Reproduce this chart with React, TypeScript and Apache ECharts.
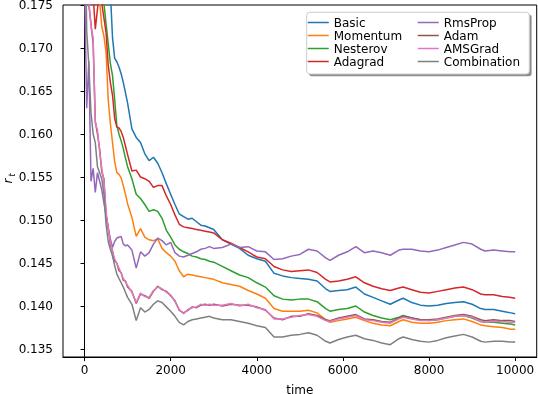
import React, { useEffect, useRef } from "react";
import * as echarts from "echarts";

// time grid (shared by every series)
const TIME = [
  0, 50, 100, 150, 200, 250, 300, 350, 400, 450,
  500, 550, 600, 650, 700, 750, 800, 850, 900, 950,
  1000, 1100, 1200, 1300, 1400, 1500, 1600, 1700, 1800, 1900,
  2000, 2100, 2200, 2300, 2400, 2500, 2600, 2700, 2800, 2900,
  3000, 3200, 3400, 3600, 3800, 4000, 4200, 4400, 4600, 4800,
  5000, 5200, 5400, 5600, 5700, 5900, 6100, 6300, 6500, 6700,
  6900, 7100, 7300, 7400, 7600, 7800, 8000, 8200, 8400, 8600,
  8800, 9000, 9200, 9300, 9500, 9700, 9900, 10000,
];

const BASIC = [
  0.215, 0.210, 0.205, 0.201, 0.197, 0.194, 0.191, 0.188, 0.185, 0.183,
  0.1805, 0.1785, 0.1765, 0.1712, 0.1688, 0.1684, 0.1678, 0.1670, 0.1660, 0.1648,
  0.1636, 0.1606, 0.1596, 0.1590, 0.1577, 0.1569, 0.1573, 0.1566, 0.1555, 0.1542,
  0.1530, 0.1518, 0.1507, 0.1504, 0.1501, 0.1502, 0.1498, 0.1494, 0.1493, 0.1491,
  0.1489, 0.1477, 0.1472, 0.1467, 0.1459, 0.1455, 0.1452, 0.1438, 0.1435, 0.1433,
  0.1432, 0.1431, 0.1429, 0.1420, 0.1417, 0.1418, 0.1419, 0.1422, 0.1414, 0.1410,
  0.1406, 0.1402, 0.1407, 0.1409, 0.1404, 0.1401, 0.1400, 0.1401, 0.1403, 0.1404,
  0.1405, 0.1402, 0.1397, 0.1396, 0.1396, 0.1394, 0.1392, 0.1391,
];

const MOMENTUM = [
  0.200, 0.195, 0.191, 0.187, 0.184, 0.181, 0.178, 0.1755, 0.1725, 0.1714,
  0.1695, 0.1640, 0.1612, 0.1590, 0.1568, 0.1555, 0.1553, 0.1549, 0.1540, 0.1530,
  0.1519, 0.1503, 0.1481, 0.1490, 0.1480, 0.1477, 0.1476, 0.1478, 0.1467, 0.1462,
  0.1458, 0.1452, 0.1441, 0.1434, 0.1437, 0.1436, 0.1435, 0.1434, 0.1433, 0.1432,
  0.1431, 0.1427, 0.1425, 0.1423, 0.1418, 0.1414, 0.1409, 0.1397, 0.1394, 0.1394,
  0.1394, 0.1395, 0.1392, 0.1384, 0.1381, 0.1383, 0.1385, 0.1387, 0.1383, 0.1380,
  0.1378, 0.1377, 0.1382, 0.1384, 0.1381, 0.1380, 0.1380, 0.1381, 0.1383, 0.1384,
  0.1385, 0.1382, 0.1378, 0.1377, 0.1376, 0.1375, 0.1373, 0.1373,
];

const NESTEROV = [
  0.205, 0.200, 0.196, 0.192, 0.188, 0.185, 0.182, 0.179, 0.1772, 0.1752,
  0.1728, 0.1705, 0.1682, 0.1668, 0.1640, 0.1610, 0.1600, 0.1592, 0.1583, 0.1572,
  0.1562, 0.1548, 0.1530, 0.1525, 0.1518, 0.1510, 0.1512, 0.1510, 0.1502, 0.1488,
  0.1480, 0.1471, 0.1466, 0.1463, 0.1461, 0.1458, 0.1457, 0.1455, 0.1454, 0.1452,
  0.1451, 0.1446, 0.1441, 0.1436, 0.1433, 0.1427, 0.1422, 0.1412, 0.1408, 0.1407,
  0.1408, 0.1408, 0.1405, 0.1397, 0.1394, 0.1396, 0.1397, 0.1400, 0.1393, 0.1389,
  0.1386, 0.1384, 0.1387, 0.1389, 0.1386, 0.1384, 0.1383, 0.1384, 0.1386, 0.1388,
  0.1389, 0.1386, 0.1382, 0.1381, 0.1381, 0.1380, 0.1379, 0.1378,
];

const ADAGRAD = [
  0.195, 0.188, 0.182, 0.178, 0.1762, 0.1722, 0.1745, 0.1768, 0.1752, 0.1735,
  0.1718, 0.1680, 0.1660, 0.1645, 0.1618, 0.1608, 0.1607, 0.1603, 0.1596, 0.1586,
  0.1576, 0.1557, 0.1558, 0.1550, 0.1548, 0.1545, 0.1538, 0.1540, 0.1540, 0.1528,
  0.1518, 0.1506, 0.1495, 0.1492, 0.1491, 0.1490, 0.1489, 0.1488, 0.1487, 0.1486,
  0.1485, 0.1477, 0.1473, 0.1468, 0.1463, 0.1457, 0.1455, 0.1446, 0.1442, 0.1440,
  0.1441, 0.1442, 0.1439, 0.1431, 0.1428, 0.1429, 0.1431, 0.1434, 0.1427, 0.1423,
  0.1420, 0.1418, 0.1421, 0.1422, 0.1419, 0.1416, 0.1415, 0.1417, 0.1419, 0.1421,
  0.1422, 0.1419, 0.1414, 0.1413, 0.1413, 0.1411, 0.1410, 0.1409,
];

const RMSPROP = [
  0.178, 0.163, 0.1685, 0.1545, 0.1560, 0.1532, 0.1555, 0.1545, 0.1535, 0.1520,
  0.1505, 0.1490, 0.1478, 0.1468, 0.1475, 0.1479, 0.1480, 0.1481, 0.1472, 0.1470,
  0.1471, 0.1465, 0.1444, 0.1463, 0.1458, 0.1462, 0.1472, 0.1479, 0.1476, 0.1471,
  0.1474, 0.1462, 0.1458, 0.1457, 0.1459, 0.1461, 0.1463, 0.1466, 0.1467, 0.1469,
  0.1467, 0.1468, 0.1472, 0.1468, 0.1469, 0.1464, 0.1463, 0.1454, 0.1455, 0.1458,
  0.1460, 0.1466, 0.1464, 0.1456, 0.1453, 0.1459, 0.1463, 0.1469, 0.1462, 0.1464,
  0.1462, 0.1459, 0.1465, 0.1466, 0.1466, 0.1464, 0.1463, 0.1465, 0.1468, 0.1471,
  0.1474, 0.1472, 0.1466, 0.1464, 0.1465, 0.1464, 0.1463, 0.1463,
];

const ADAM = [
  0.186, 0.179, 0.1750, 0.1728, 0.1705, 0.1615, 0.1600, 0.1583, 0.1556, 0.1548,
  0.1506, 0.1492, 0.1472, 0.1464, 0.1452, 0.1450, 0.1441, 0.1439, 0.1430, 0.1429,
  0.1422, 0.1417, 0.1403, 0.1414, 0.1412, 0.1409, 0.1417, 0.1423, 0.1419, 0.1417,
  0.1412, 0.1406, 0.1395, 0.1392, 0.1395, 0.1399, 0.1398, 0.1401, 0.1402, 0.1401,
  0.1402, 0.1400, 0.1402, 0.1401, 0.1401, 0.1399, 0.1395, 0.1386, 0.1384, 0.1388,
  0.1388, 0.1391, 0.1389, 0.1384, 0.1383, 0.1386, 0.1388, 0.1390, 0.1385, 0.1384,
  0.1382, 0.1381, 0.1386, 0.1388, 0.1386, 0.1384, 0.1384, 0.1385, 0.1387, 0.1389,
  0.1390, 0.1388, 0.1384, 0.1383, 0.1384, 0.1383, 0.1383, 0.1382,
];

const AMSGRAD = [
  0.185, 0.178, 0.1755, 0.1725, 0.1712, 0.1612, 0.1605, 0.1580, 0.1560, 0.1545,
  0.1510, 0.1490, 0.1475, 0.1462, 0.1455, 0.1449, 0.1444, 0.1438, 0.1432, 0.1428,
  0.1424, 0.1416, 0.1404, 0.1415, 0.1411, 0.1410, 0.1418, 0.1422, 0.1420, 0.1416,
  0.1413, 0.1405, 0.1396, 0.1391, 0.1396, 0.1398, 0.1399, 0.1402, 0.1401, 0.1402,
  0.1401, 0.1401, 0.1403, 0.1400, 0.1402, 0.1398, 0.1396, 0.1385, 0.1385, 0.1387,
  0.1389, 0.1390, 0.1388, 0.1383, 0.1382, 0.1385, 0.1387, 0.1389, 0.1384, 0.1383,
  0.1381, 0.1380, 0.1385, 0.1387, 0.1385, 0.1383, 0.1383, 0.1384, 0.1386, 0.1388,
  0.1389, 0.1387, 0.1382, 0.1381, 0.1382, 0.1382, 0.1381, 0.1381,
];

const COMBINATION = [
  0.190, 0.172, 0.1680, 0.1625, 0.1600, 0.1590, 0.1562, 0.1555, 0.1548, 0.1530,
  0.1495, 0.1475, 0.1466, 0.1458, 0.1447, 0.1437, 0.1432, 0.1427, 0.1422, 0.1416,
  0.1410, 0.1402, 0.1383, 0.1398, 0.1393, 0.1396, 0.1402, 0.1406, 0.1404, 0.1399,
  0.1394, 0.1388, 0.1381, 0.1378, 0.1382, 0.1384, 0.1385, 0.1386, 0.1387, 0.1388,
  0.1386, 0.1384, 0.1384, 0.1382, 0.1380, 0.1377, 0.1375, 0.1364, 0.1364, 0.1366,
  0.1367, 0.1369, 0.1366, 0.1359, 0.1357, 0.1361, 0.1364, 0.1366, 0.1362, 0.1360,
  0.1357, 0.1355, 0.1362, 0.1364, 0.1361, 0.1359, 0.1358, 0.1360, 0.1363, 0.1365,
  0.1367, 0.1364, 0.1359, 0.1358, 0.1359, 0.1359, 0.1358, 0.1358,
];

const SERIES_NAMES = ["Basic", "Momentum", "Nesterov", "Adagrad", "RmsProp", "Adam", "AMSGrad", "Combination"];
const SERIES_VALUES = [BASIC, MOMENTUM, NESTEROV, ADAGRAD, RMSPROP, ADAM, AMSGRAD, COMBINATION];
const COLORS = ["#1f77b4", "#ff7f0e", "#2ca02c", "#d62728", "#9467bd", "#8c564b", "#e377c2", "#7f7f7f"];

const X_TICKS = [0, 2000, 4000, 6000, 8000, 10000];
const Y_TICKS = [0.135, 0.14, 0.145, 0.15, 0.155, 0.16, 0.165, 0.17, 0.175];

const FONT = "DejaVu Sans";

export default function App() {
  const ref = useRef<HTMLDivElement>(null);
  useEffect(() => {
    if (!ref.current) return;
    const chart = echarts.init(ref.current, undefined, { renderer: "svg" });
    const legendCommon = {
      orient: "vertical",
      itemWidth: 21,
      itemHeight: 13,
      itemGap: 0,
      padding: 0,
      itemStyle: { opacity: 0 },
      lineStyle: { width: 1.5 },
      textStyle: { fontSize: 12, color: "#000", fontFamily: FONT, lineHeight: 13 },
      selectedMode: false,
    };
    chart.setOption({
      animation: false,
      color: COLORS,
      grid: {
        left: 63,
        right: 1.3,
        top: 5,
        bottom: 37,
        show: true,
        borderColor: "#000",
        borderWidth: 1,
        backgroundColor: "transparent",
        containLabel: false,
        outerBoundsMode: "none",
      },
      xAxis: {
        type: "value",
        min: -500,
        max: 10500,
        name: "time",
        nameLocation: "middle",
        nameGap: 27,
        nameTextStyle: { fontSize: 12, color: "#000", fontFamily: FONT },
        axisLine: { show: true, lineStyle: { color: "#000", width: 1 } },
        axisTick: { show: true, inside: false, length: 4, customValues: X_TICKS, lineStyle: { color: "#000" } },
        axisLabel: {
          customValues: X_TICKS,
          margin: 7,
          color: "#000",
          fontSize: 12,
          fontFamily: FONT,
          formatter: (v: number) => String(v),
        },
        splitLine: { show: false },
      },
      yAxis: {
        type: "value",
        min: 0.13407,
        max: 0.175,
        axisLine: { show: true, lineStyle: { color: "#000", width: 1 } },
        axisTick: { show: true, inside: false, length: 4, customValues: Y_TICKS, lineStyle: { color: "#000" } },
        axisLabel: {
          customValues: Y_TICKS,
          margin: 10,
          color: "#000",
          fontSize: 12,
          fontFamily: FONT,
          formatter: (v: number) => v.toFixed(3),
        },
        splitLine: { show: false },
      },
      legend: [
        { ...legendCommon, data: SERIES_NAMES.slice(0, 4), left: 307, top: 16 },
        { ...legendCommon, data: SERIES_NAMES.slice(4), left: 417, top: 16 },
      ],
      graphic: [
        {
          type: "rect",
          z: 1,
          shape: { x: 309, y: 14.6, width: 222.6, height: 61.7, r: 3 },
          style: { fill: "rgba(0,0,0,0.45)" },
          silent: true,
        },
        {
          type: "rect",
          z: 2,
          shape: { x: 306.7, y: 12.3, width: 222.6, height: 61.7, r: 3 },
          style: { fill: "#fff", stroke: "#cccccc", lineWidth: 1 },
          silent: true,
        },
        {
          type: "group",
          x: 8,
          y: 181,
          rotation: Math.PI / 2,
          children: [
            {
              type: "text",
              x: 0,
              y: 0,
              style: { text: "r", fontSize: 12, fontStyle: "italic", fontFamily: FONT, fill: "#000", align: "center", verticalAlign: "middle" },
            },
            {
              type: "text",
              x: 6,
              y: 3.5,
              style: { text: "t", fontSize: 8.5, fontStyle: "italic", fontFamily: FONT, fill: "#000", align: "center", verticalAlign: "middle" },
            },
          ],
        },
      ],
      series: SERIES_NAMES.map((name, i) => ({
        name,
        type: "line",
        data: TIME.map((t, j) => [t, SERIES_VALUES[i][j]]),
        showSymbol: false,
        symbol: "none",
        clip: true,
        lineStyle: { width: 1.5, color: COLORS[i] },
        itemStyle: { color: COLORS[i] },
        emphasis: { disabled: true },
        z: 2 + i,
      })),
    });
    return () => chart.dispose();
  }, []);
  return <div ref={ref} style={{ position: "fixed", left: 0, top: 0, width: 538, height: 394 }} />;
}
